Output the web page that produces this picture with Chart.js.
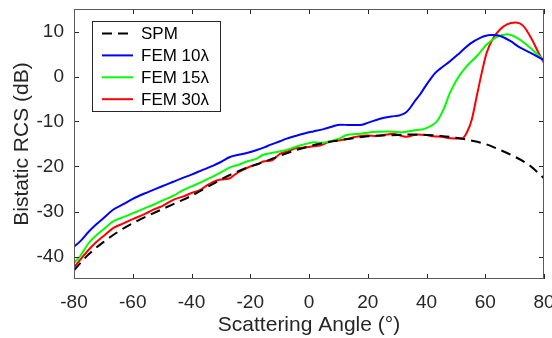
<!DOCTYPE html>
<html>
<head>
<meta charset="utf-8">
<script src="https://cdn.jsdelivr.net/npm/chart.js@4/dist/chart.umd.min.js"></script>
<style>
  html, body { margin: 0; padding: 0; background: #fff; }
  #wrap { width: 552px; height: 338px; position: relative; }
</style>
</head>
<body>
<div id="wrap"><canvas id="c" width="552" height="338"></canvas></div>
<script>
// ---- data ----
const seriesLabels = ['SPM', 'FEM 10\u03bb', 'FEM 15\u03bb', 'FEM 30\u03bb'];

const spmAngles = [-80,-78,-75,-70,-65,-60,-55,-50,-45,-40,-35,-30,-25,-20,-15,-10,-5,0,5,10,15,20,25,30,35,40,45,50,55,60,65,70,75,78,80];
const spmValues = [-43.1,-41.6,-39.5,-36.8,-34.5,-32.6,-31.0,-29.5,-28.0,-26.5,-24.7,-22.9,-21.3,-20.0,-18.9,-17.6,-16.5,-15.5,-14.8,-14.2,-13.7,-13.3,-13.1,-13.0,-12.9,-13.0,-13.2,-13.6,-14.2,-15.0,-16.3,-17.8,-19.7,-21.4,-22.6];

const fem10Angles = [-80,-78,-75,-72.3,-70,-66.7,-63,-60,-56,-53,-50,-46.2,-44,-40,-36,-32.6,-30,-26.9,-24,-21.2,-18,-15,-13.3,-9.9,-7.6,-4,0,1.5,5,8,10.6,14,17.4,20,24.2,28,31,33,34.4,36,37.8,39.5,41.2,43,44.6,48,51.4,54.9,58.3,61.7,63,65.1,68.5,71.9,75.3,80];
const fem10Values = [-37.8,-36.7,-34.5,-32.8,-31.5,-29.6,-28.3,-27.2,-26.0,-25.2,-24.4,-23.4,-22.8,-21.8,-20.7,-19.8,-19.0,-17.9,-17.4,-17.0,-16.4,-15.7,-15.2,-14.4,-13.8,-13.1,-12.4,-12.2,-11.7,-11.1,-10.7,-10.8,-10.8,-10.3,-9.4,-8.9,-8.6,-8.0,-7.0,-5.5,-4.0,-2.3,-0.7,0.8,1.7,3.4,5.3,7.3,8.6,9.2,9.2,9.0,7.9,6.4,5.3,3.6];

const fem15Angles = [-80,-78,-75,-72.3,-70,-66.7,-63,-60,-56,-53,-50,-46.2,-43,-40,-37,-34.9,-32.6,-30,-26.9,-24,-21.2,-18,-15.6,-12,-7.6,-4,0,1.5,4,7.2,10,12.8,16,19.7,23,26.5,31,36.7,39,41.2,43.5,45.8,48,50.3,53.7,57.1,60.5,64,67.4,70.8,75.3,80];
const fem15Values = [-41.4,-40.0,-37.0,-35.2,-34.0,-32.2,-31.2,-30.4,-29.3,-28.5,-27.6,-26.5,-25.3,-24.4,-23.6,-22.9,-22.2,-21.3,-20.2,-19.6,-18.9,-18.3,-17.4,-16.9,-16.3,-15.5,-14.8,-14.6,-14.7,-14.4,-13.9,-13.0,-12.8,-12.5,-12.3,-12.2,-12.4,-11.9,-11.7,-11.1,-10.0,-7.3,-3.6,-0.7,2.3,4.5,7.1,8.8,9.4,8.6,6.4,3.5];

const fem30Angles = [-80,-78,-75,-72.3,-70,-66.7,-63,-60,-56,-53,-50,-46.2,-43,-40,-37,-35,-32.6,-30,-27,-25,-23.5,-20,-17.5,-15.6,-12.5,-9.9,-7,-4.2,-1.5,1.5,4,7.2,10,12.8,16,19.7,23,26.5,28.6,31,33.3,36.7,40,42.4,45,48,52,53.7,55.4,57.1,58.8,60.5,62.8,65.1,67.4,70.2,73,75.9,78.1,80];
const fem30Values = [-42.4,-40.8,-38.5,-36.7,-35.5,-33.7,-32.6,-31.7,-30.6,-29.6,-28.8,-27.4,-26.7,-25.9,-25.2,-24.3,-23.4,-22.9,-22.6,-21.7,-21.1,-20.0,-19.5,-18.9,-18.6,-17.2,-16.6,-15.9,-15.8,-15.5,-15.3,-14.4,-14.2,-13.9,-13.4,-13.1,-13.2,-12.9,-12.7,-13.1,-13.4,-12.9,-13.0,-13.3,-13.4,-13.7,-13.8,-12.5,-9.6,-4.4,0.8,5.3,8.6,10.5,11.6,12.0,11.2,8.2,5.3,3.0];

const xTickValues = [-80,-60,-40,-20,0,20,40,60,80];
const yTickValues = [-40,-30,-20,-10,0,10];
const xTitle = 'Scattering Angle (\u00b0)';
const yTitle = 'Bistatic RCS (dB)';

// ---- helpers ----
const pts = (xs, ys) => xs.map((x, i) => ({x: x, y: ys[i]}));
const FONT = "'Liberation Sans', Arial, Helvetica, sans-serif";
const AXC = '#262626';

function fixScale(s, size) {
  if (s.isHorizontal()) s.height = size; else s.width = size;
  s.paddingLeft = 0; s.paddingRight = 0; s.paddingTop = 0; s.paddingBottom = 0;
}

const boxPlugin = {
  id: 'matlabBox',
  afterDraw(chart) {
    const {ctx, chartArea: a, scales: {x, y}} = chart;
    ctx.save();
    ctx.strokeStyle = AXC;
    ctx.lineWidth = 1;
    const L = 5;
    ctx.beginPath();
    x.ticks.forEach(t => {
      const px = Math.round(x.getPixelForValue(t.value)) + 0.5;
      ctx.moveTo(px, a.bottom); ctx.lineTo(px, a.bottom - L);
      ctx.moveTo(px, a.top); ctx.lineTo(px, a.top + L);
    });
    y.ticks.forEach(t => {
      const py = Math.round(y.getPixelForValue(t.value)) + 0.5;
      ctx.moveTo(a.left, py); ctx.lineTo(a.left + L, py);
      ctx.moveTo(a.right, py); ctx.lineTo(a.right - L, py);
    });
    ctx.stroke();
    ctx.strokeStyle = '#5a5a5a';
    ctx.strokeRect(Math.round(a.left) + 0.5, Math.round(a.top) + 0.5, Math.round(a.right - a.left) - 1, Math.round(a.bottom - a.top) - 1);

    // legend box
    const lx = 92, ly = 21, lw = 128, lh = 90;
    ctx.fillStyle = '#fff';
    ctx.fillRect(lx, ly, lw, lh);
    ctx.strokeStyle = '#262626';
    ctx.lineWidth = 1;
    ctx.strokeRect(lx + 0.5, ly + 0.5, lw, lh);
    ctx.font = '17px ' + FONT;
    ctx.textBaseline = 'middle';
    ctx.textAlign = 'left';
    chart.data.datasets.forEach((ds, i) => {
      const yy = 33.5 + i * 21.9;
      ctx.save();
      ctx.strokeStyle = ds.borderColor;
      ctx.lineWidth = ds.borderWidth;
      ctx.setLineDash(ds.borderDash || []);
      ctx.beginPath();
      ctx.moveTo(102, yy); ctx.lineTo(133, yy);
      ctx.stroke();
      ctx.restore();
      ctx.fillStyle = '#000';
      ctx.fillText(ds.label, 141, yy + 1);
    });
    ctx.restore();
  }
};

new Chart(document.getElementById('c'), {
  type: 'line',
  data: {
    datasets: [
      {label: seriesLabels[0], data: pts(spmAngles, spmValues), borderColor: '#000000', borderWidth: 2, borderDash: [10, 6], pointRadius: 0, fill: false, cubicInterpolationMode: 'monotone'},
      {label: seriesLabels[1], data: pts(fem10Angles, fem10Values), borderColor: '#0000ff', borderWidth: 2, pointRadius: 0, fill: false, cubicInterpolationMode: 'monotone'},
      {label: seriesLabels[2], data: pts(fem15Angles, fem15Values), borderColor: '#00ff00', borderWidth: 2, pointRadius: 0, fill: false, cubicInterpolationMode: 'monotone'},
      {label: seriesLabels[3], data: pts(fem30Angles, fem30Values), borderColor: '#ff0000', borderWidth: 2, pointRadius: 0, fill: false, cubicInterpolationMode: 'monotone'}
    ]
  },
  options: {
    responsive: false,
    animation: false,
    events: [],
    layout: {padding: {top: 9, right: 8, left: 0, bottom: 0}},
    plugins: {legend: {display: false}, tooltip: {enabled: false}},
    scales: {
      x: {
        type: 'linear', min: -80, max: 80,
        afterBuildTicks: s => { s.ticks = xTickValues.map(v => ({value: v})); },
        afterFit: s => fixScale(s, 59),
        grid: {display: false, drawTicks: false},
        border: {display: false},
        ticks: {color: AXC, font: {family: FONT, size: 19}, padding: 12, maxRotation: 0, autoSkip: false},
        title: {display: true, text: xTitle, color: AXC, font: {family: FONT, size: 21, lineHeight: 1}, padding: {top: 0, bottom: 2}}
      },
      y: {
        type: 'linear', min: -45, max: 15,
        afterBuildTicks: s => { s.ticks = yTickValues.map(v => ({value: v})); },
        afterFit: s => fixScale(s, 74),
        grid: {display: false, drawTicks: false},
        border: {display: false},
        ticks: {color: AXC, font: {family: FONT, size: 19}, padding: 10, autoSkip: false},
        title: {display: true, text: yTitle, color: AXC, font: {family: FONT, size: 21, lineHeight: 1}, padding: {top: 12, bottom: 0}}
      }
    }
  },
  plugins: [boxPlugin]
});
</script>
</body>
</html>
